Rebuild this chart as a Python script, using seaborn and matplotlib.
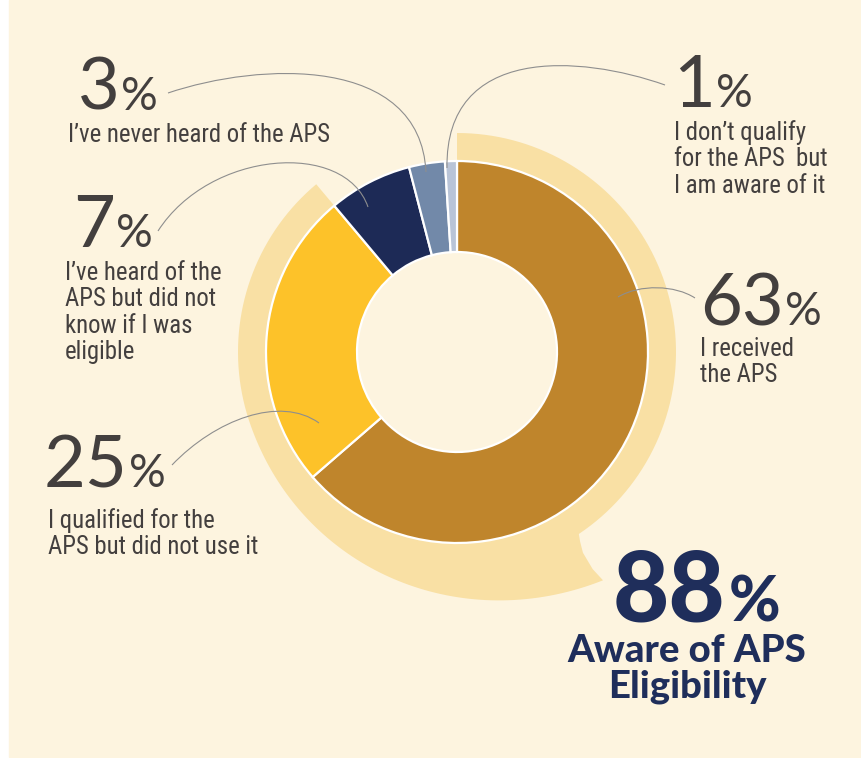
import os
import numpy as np
import matplotlib
matplotlib.use("Agg")
import matplotlib.pyplot as plt
from matplotlib import font_manager as fm
from matplotlib.path import Path
from matplotlib.patches import PathPatch, Rectangle
import seaborn as sns

# data
labels = [
    "I received\nthe APS",
    "I qualified for the\nAPS but did not use it",
    "I\u2019ve heard of the\nAPS but did not\nknow if I was\neligible",
    "I\u2019ve never heard of the APS",
    "I don\u2019t qualify\nfor the APS  but\nI am aware of it",
]
values = [63, 25, 7, 3, 1]
aware_total = 88
aware_text = "Aware of APS\nEligibility"
colors = sns.color_palette(["#BF852C", "#FDC229", "#1D2A56", "#7289A9", "#B9C4D7"])

W, H = 861, 758
BG = "#FDF4DF"
BAND = "#F9E0A4"
TXT = "#433F3E"
NAVY = "#1F2E5B"
LINE = "#8E8E8E"

sns.set_theme(style="white")
plt.rcParams["font.family"] = ["Lato", "DejaVu Sans"]


def pick_narrow():
    files = [f.fname for f in fm.fontManager.ttflist]
    prefs = ["liberationsansnarrow-regular", "robotocondensed-regular",
             "notosans-condensed.", "opensans_condensed-regular",
             "opensanscondensed", "dejavusanscondensed.", "notosans-semicondensed."]
    for p in prefs:
        for fn in files:
            if p in os.path.basename(fn).lower():
                return fn
    bad = ["bold", "italic", "mono", "serif", "light", "medium", "black", "thin", "oblique"]
    for fn in files:
        b = os.path.basename(fn).lower()
        if ("condensed" in b or "narrow" in b) and not any(k in b for k in bad):
            return fn
    return None


narrow = pick_narrow()
desc_fp = fm.FontProperties(fname=narrow) if narrow else fm.FontProperties(family="Roboto")

fig = plt.figure(figsize=(W / 100, H / 100), dpi=100, facecolor="white")
ax = fig.add_axes([0, 0, 1, 1])


def py(y):
    return H - y


cx, cy = 457, py(352)
R, r_in, R_band = 191, 100, 219

ax.add_patch(Rectangle((9, py(757)), W - 9, 757, color=BG, zorder=0))

# light "aware" band with speech tail
frac = aware_total / sum(values)
end_ang = 90 - 360 * frac + 360
th1 = np.linspace(end_ang, 200, 40)
r1 = np.full_like(th1, R_band)
th2 = np.linspace(200, 302.6, 80)
t = (th2 - 200) / (302.6 - 200)
r2 = R_band + 52 * t ** 1.8
tail_back_th = np.array([302.0, 302.1, 303.0, 303.8])
tail_back_r = np.array([256, 237, 226, R_band])
th3 = np.linspace(303.8, 450, 80)
r3 = np.full_like(th3, R_band)
th_out = np.concatenate([th1, th2, tail_back_th, th3])
r_out = np.concatenate([r1, r2, tail_back_r, r3])
th_inn = np.linspace(450, end_ang, 160)
th_all = np.deg2rad(np.concatenate([th_out, th_inn]))
r_all = np.concatenate([r_out, np.full_like(th_inn, R - 1)])
verts = np.column_stack([cx + r_all * np.cos(th_all), cy + r_all * np.sin(th_all)])
ax.add_patch(PathPatch(Path(np.vstack([verts, verts[:1]]), closed=True),
                       facecolor=BAND, edgecolor="none", zorder=1))

ax.pie(values, colors=colors, startangle=90, counterclock=False, radius=R,
       center=(cx, cy),
       wedgeprops=dict(width=R - r_in, edgecolor="white", linewidth=1.6, zorder=2))

# leader lines (cubic curves)
leaders = [
    [(695, 298), (675, 285), (640, 284), (618, 297)],
    [(172, 465), (215, 420), (280, 395), (319, 423)],
    [(158, 231), (210, 150), (345, 140), (368, 207)],
    [(168, 93), (260, 62), (420, 55), (426, 172)],
    [(665, 85), (580, 55), (445, 45), (447, 168)],
]
for pts in leaders:
    p = [(x, py(y)) for x, y in pts]
    ax.add_patch(PathPatch(Path(p, [Path.MOVETO, Path.CURVE4, Path.CURVE4, Path.CURVE4]),
                           facecolor="none", edgecolor=LINE, lw=0.8, zorder=3))

ax.set_xlim(0, W)
ax.set_ylim(0, H)
ax.set_aspect("equal")
ax.axis("off")

fig.canvas.draw()
renderer = fig.canvas.get_renderer()

# size the description font so a reference line keeps its width
probe = ax.text(0, 0, labels[3], fontproperties=desc_fp, fontsize=17.5)
pw = probe.get_window_extent(renderer).width
probe.remove()
desc_size = float(np.clip(17.5 * 262 / pw, 13, 19))


def big_number(x, y, val, size, pct_size, color, weight="normal", gap=1):
    t1 = ax.text(x, py(y), str(val), fontsize=size, color=color, weight=weight,
                 ha="left", va="baseline", zorder=4)
    bb = t1.get_window_extent(renderer)
    x_end = ax.transData.inverted().transform((bb.x1, bb.y0))[0]
    ax.text(x_end + gap, py(y), "%", fontsize=pct_size, color=color, weight=weight,
            ha="left", va="baseline", zorder=4)


label_pos = [
    (700, 325, 700, 356),
    (44, 487, 48, 528),
    (73, 247, 65, 280),
    (78, 110, 68, 142),
    (673, 107, 674, 140),
]
for val, lab, (nx, ny, dx, dy) in zip(values, labels, label_pos):
    big_number(nx, ny, val, 52, 33, TXT)
    for i, line in enumerate(lab.split("\n")):
        ax.text(dx, py(dy + i * 26.3), line, fontproperties=desc_fp, fontsize=desc_size,
                color=TXT, ha="left", va="baseline", zorder=4)

big_number(613, 622, aware_total, 70, 45, NAVY, weight="black", gap=3)
for i, line in enumerate(aware_text.split("\n")):
    ax.text(687, py(662 + i * 35), line, fontsize=27.5, color=NAVY, weight="black",
            ha="center", va="baseline", zorder=4)

fig.savefig("out.png", dpi=100, facecolor="white")
